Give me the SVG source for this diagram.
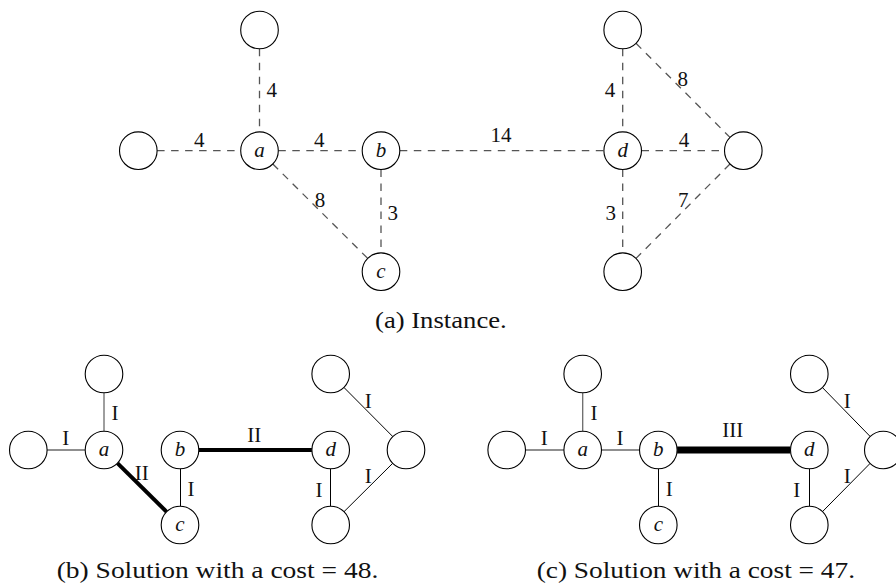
<svg xmlns="http://www.w3.org/2000/svg" width="896" height="585" viewBox="0 0 896 585">
<style>
.n{fill:#fff;stroke:#000;stroke-width:1.1}
.d{stroke:#555;stroke-width:1.3;stroke-dasharray:7.5 6.5;fill:none}
.g{stroke:#6a6a6a;stroke-width:1.3;fill:none}
.k{stroke:#000;stroke-width:1;fill:none}
.t2{stroke:#000;stroke-width:4;fill:none}
.t3{stroke:#000;stroke-width:7;fill:none}
text{font-family:"Liberation Serif","Times New Roman",serif;fill:#111}
.l{font-size:21px;text-anchor:middle}
.v{font-size:21px;font-style:italic;text-anchor:middle}
.cap{font-size:24px}
</style>
<rect width="896" height="585" fill="#fff"/>
<g id="connectors">
<!-- (a) instance -->
<line class="d" x1="259.5" y1="48.8" x2="259.5" y2="131.9"/>
<line class="d" x1="157.1" y1="150.7" x2="240.7" y2="150.7"/>
<line class="d" x1="278.3" y1="150.7" x2="362.2" y2="150.7"/>
<line class="d" x1="399.8" y1="150.7" x2="603.9" y2="150.7"/>
<line class="d" x1="272.8" y1="164" x2="367.7" y2="258.4"/>
<line class="d" x1="381" y1="169.5" x2="381" y2="252.9"/>
<line class="d" x1="622.7" y1="48.8" x2="622.7" y2="131.9"/>
<line class="d" x1="641.5" y1="150.7" x2="724.5" y2="150.7"/>
<line class="d" x1="622.7" y1="169.5" x2="622.7" y2="252.9"/>
<line class="d" x1="636" y1="43.3" x2="730" y2="137.4"/>
<line class="d" x1="730" y1="164" x2="636" y2="258.4"/>
<!-- (b) -->
<line class="g" x1="104" y1="392.8" x2="104" y2="431.2"/>
<line class="g" x1="47.1" y1="450" x2="85.2" y2="450"/>
<line class="t2" x1="117.4" y1="463.2" x2="166.6" y2="511.8"/>
<line class="k" x1="180.5" y1="468.8" x2="180.5" y2="506.2"/>
<line class="t2" x1="198.8" y1="450" x2="311.9" y2="450"/>
<line class="k" x1="330.5" y1="468.8" x2="330.5" y2="506.2"/>
<line class="k" x1="343.9" y1="387.4" x2="392.8" y2="436.6"/>
<line class="k" x1="392.7" y1="463.3" x2="344" y2="511.7"/>
<!-- (c) -->
<line class="g" x1="582.7" y1="392.8" x2="582.7" y2="431.2"/>
<line class="g" x1="525.5" y1="450" x2="563.9" y2="450"/>
<line class="g" x1="601.5" y1="450" x2="639.5" y2="450"/>
<line class="k" x1="658.5" y1="468.8" x2="658.5" y2="506.2"/>
<line class="t3" x1="677.1" y1="450" x2="790.5" y2="450"/>
<line class="k" x1="809.5" y1="468.8" x2="809.5" y2="506.2"/>
<line class="k" x1="822.4" y1="387.5" x2="870.2" y2="436.5"/>
<line class="k" x1="870.1" y1="463.4" x2="822.5" y2="511.6"/>
</g>
<g id="edge-labels">
<text class="l" x="271.7" y="97">4</text>
<text class="l" x="199.3" y="147">4</text>
<text class="l" x="319.3" y="147">4</text>
<text class="l" x="320" y="207">8</text>
<text class="l" x="392.7" y="220">3</text>
<text class="l" x="501" y="141.7">14</text>
<text class="l" x="610" y="97">4</text>
<text class="l" x="682.7" y="86">8</text>
<text class="l" x="684" y="146.7">4</text>
<text class="l" x="610.7" y="220">3</text>
<text class="l" x="683.3" y="206.7">7</text>

<text class="l" x="115" y="420">I</text>
<text class="l" x="65.7" y="445">I</text>
<text class="l" x="141.7" y="480">II</text>
<text class="l" x="191" y="496">I</text>
<text class="l" x="254.3" y="441.7">II</text>
<text class="l" x="368.3" y="408">I</text>
<text class="l" x="368.3" y="483">I</text>
<text class="l" x="319" y="496.7">I</text>

<text class="l" x="594" y="420">I</text>
<text class="l" x="544.3" y="445">I</text>
<text class="l" x="620" y="445">I</text>
<text class="l" x="732.7" y="437">III</text>
<text class="l" x="669.3" y="496">I</text>
<text class="l" x="796.7" y="496.7">I</text>
<text class="l" x="847.3" y="408">I</text>
<text class="l" x="847.3" y="483">I</text>
</g>
<!-- (a) nodes -->
<g id="a-top"><circle class="n" cx="259.5" cy="30" r="18.8"/></g>
<g id="a-left"><circle class="n" cx="138.3" cy="150.7" r="18.8"/></g>
<g id="a-a"><circle class="n" cx="259.5" cy="150.7" r="18.8"/><text class="v" x="259.5" y="156.7">a</text></g>
<g id="a-b"><circle class="n" cx="381" cy="150.7" r="18.8"/><text class="v" x="381" y="156.7">b</text></g>
<g id="a-c"><circle class="n" cx="381" cy="271.7" r="18.8"/><text class="v" x="381" y="277.7">c</text></g>
<g id="a-d"><circle class="n" cx="622.7" cy="150.7" r="18.8"/><text class="v" x="622.7" y="156.7">d</text></g>
<g id="a-top2"><circle class="n" cx="622.7" cy="30" r="18.8"/></g>
<g id="a-right"><circle class="n" cx="743.3" cy="150.7" r="18.8"/></g>
<g id="a-bottom"><circle class="n" cx="622.7" cy="271.7" r="18.8"/></g>
<!-- (b) nodes -->
<g id="b-top"><circle class="n" cx="104" cy="374" r="18.8"/></g>
<g id="b-left"><circle class="n" cx="28.3" cy="450" r="18.8"/></g>
<g id="b-a"><circle class="n" cx="104" cy="450" r="18.8"/><text class="v" x="104" y="456">a</text></g>
<g id="b-b"><circle class="n" cx="180" cy="450" r="18.8"/><text class="v" x="180" y="456">b</text></g>
<g id="b-c"><circle class="n" cx="180" cy="525" r="18.8"/><text class="v" x="180" y="531">c</text></g>
<g id="b-d"><circle class="n" cx="330.7" cy="450" r="18.8"/><text class="v" x="330.7" y="456">d</text></g>
<g id="b-top2"><circle class="n" cx="330.7" cy="374" r="18.8"/></g>
<g id="b-right"><circle class="n" cx="406" cy="450" r="18.8"/></g>
<g id="b-bottom"><circle class="n" cx="330.7" cy="525" r="18.8"/></g>
<!-- (c) nodes -->
<g id="c-top"><circle class="n" cx="582.7" cy="374" r="18.8"/></g>
<g id="c-left"><circle class="n" cx="506.7" cy="450" r="18.8"/></g>
<g id="c-a"><circle class="n" cx="582.7" cy="450" r="18.8"/><text class="v" x="582.7" y="456">a</text></g>
<g id="c-b"><circle class="n" cx="658.3" cy="450" r="18.8"/><text class="v" x="658.3" y="456">b</text></g>
<g id="c-c"><circle class="n" cx="658.3" cy="525" r="18.8"/><text class="v" x="658.3" y="531">c</text></g>
<g id="c-d"><circle class="n" cx="809.3" cy="450" r="18.8"/><text class="v" x="809.3" y="456">d</text></g>
<g id="c-top2"><circle class="n" cx="809.3" cy="374" r="18.8"/></g>
<g id="c-right"><circle class="n" cx="883.3" cy="450" r="18.8"/></g>
<g id="c-bottom"><circle class="n" cx="809.3" cy="525" r="18.8"/></g>
<g id="captions">
<text class="cap" x="375" y="328" textLength="131.7" lengthAdjust="spacingAndGlyphs">(a) Instance.</text>
<text class="cap" x="56.7" y="578" textLength="321.6" lengthAdjust="spacingAndGlyphs">(b) Solution with a cost = 48.</text>
<text class="cap" x="536.7" y="578" textLength="318.3" lengthAdjust="spacingAndGlyphs">(c) Solution with a cost = 47.</text>
</g>
</svg>
